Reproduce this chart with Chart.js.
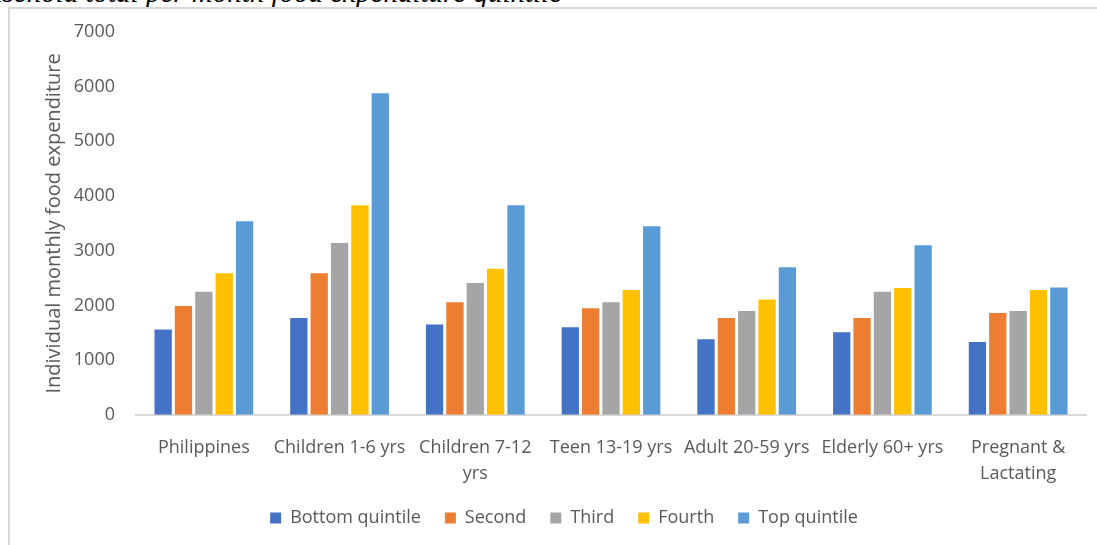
<!DOCTYPE html>
<html>
<head>
    <title>Individual monthly food expenditure</title>
    <script src="https://cdn.jsdelivr.net/npm/chart.js"></script>
    <style>
        html, body {
            margin: 0;
            padding: 0;
            width: 1097px;
            height: 545px;
            overflow: hidden;
            background: #fff;
        }
        .caption {
            position: absolute;
            left: -41px;
            top: -22px;
            font-family: "Liberation Serif", serif;
            font-style: italic;
            font-size: 29px;
            line-height: 29px;
            color: #000;
            white-space: nowrap;
        }
        .frame {
            position: absolute;
            left: 8px;
            top: 7px;
            width: 1108px;
            height: 560px;
            border-left: 2px solid #d9d9d9;
            border-top: 2px solid #d9d9d9;
            background: #fff;
        }
        .chart-box {
            position: absolute;
            left: 0;
            top: 0;
            width: 1108px;
            height: 528px;
        }
    </style>
</head>
<body>
    <div class="caption">household total per month food expenditure quintile</div>
    <div class="frame">
        <div class="chart-box">
            <canvas id="foodChart"></canvas>
        </div>
    </div>

    <script>
        const categories = [
            'Philippines',
            'Children 1-6 yrs',
            ['Children 7-12', 'yrs'],
            'Teen 13-19 yrs',
            'Adult 20-59 yrs',
            'Elderly 60+ yrs',
            ['Pregnant &', 'Lactating']
        ];
        const seriesNames = ['Bottom quintile', 'Second', 'Third', 'Fourth', 'Top quintile'];
        const bottomQuintile = [1560, 1770, 1650, 1600, 1380, 1510, 1330];
        const secondQuintile = [1990, 2590, 2060, 1950, 1770, 1770, 1860];
        const thirdQuintile = [2250, 3140, 2410, 2060, 1900, 2250, 1900];
        const fourthQuintile = [2590, 3830, 2670, 2280, 2110, 2320, 2280];
        const topQuintile = [3540, 5880, 3830, 3450, 2700, 3100, 2330];
        const yTicks = [0, 1000, 2000, 3000, 4000, 5000, 6000, 7000];

        const colors = ['#4472C4', '#ED7D31', '#A5A5A5', '#FFC000', '#5B9BD5'];
        const values = [bottomQuintile, secondQuintile, thirdQuintile, fourthQuintile, topQuintile];

        const font = { family: '"Open Sans", sans-serif', size: 18 };
        const grey = '#595959';

        new Chart(document.getElementById('foodChart'), {
            type: 'bar',
            data: {
                labels: categories,
                datasets: seriesNames.map((name, i) => ({
                    label: name,
                    data: values[i],
                    backgroundColor: colors[i],
                    categoryPercentage: 0.75,
                    barPercentage: 0.85
                }))
            },
            options: {
                responsive: true,
                maintainAspectRatio: false,
                animation: false,
                layout: {
                    padding: { left: 32, right: 32, top: 0, bottom: 0 }
                },
                plugins: {
                    legend: {
                        position: 'bottom',
                        labels: {
                            color: grey,
                            font: font,
                            boxWidth: 11,
                            boxHeight: 11,
                            padding: 24
                        }
                    },
                    tooltip: { enabled: false }
                },
                scales: {
                    x: {
                        grid: { display: false, drawTicks: false },
                        border: { display: true, color: '#d9d9d9', width: 2 },
                        ticks: {
                            color: grey,
                            font: { ...font, lineHeight: 1.45 },
                            maxRotation: 0,
                            autoSkip: false,
                            padding: 20
                        },
                        // pull the legend closer to the category labels
                        afterFit: (scale) => { scale.height -= 22; }
                    },
                    y: {
                        min: 0,
                        max: 7000,
                        afterBuildTicks: (axis) => {
                            axis.ticks = yTicks.map(v => ({ value: v }));
                        },
                        afterFit: (scale) => {
                            scale.width = 94;
                            scale.paddingTop = 23;
                        },
                        grid: { display: false, drawTicks: false },
                        border: { display: false },
                        ticks: {
                            color: grey,
                            font: font,
                            padding: 21,
                            callback: (v) => String(v)
                        },
                        title: {
                            display: true,
                            text: 'Individual monthly food expenditure',
                            color: grey,
                            font: { ...font, size: 20 },
                            padding: { top: 0, bottom: 10 }
                        }
                    }
                }
            }
        });
    </script>
</body>
</html>
